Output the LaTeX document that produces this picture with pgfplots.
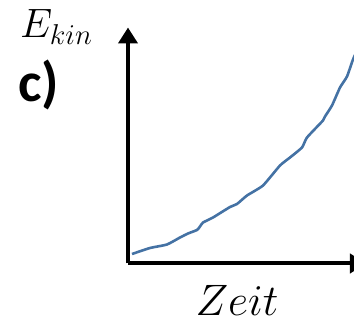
\RequirePackage{fix-cm}
\documentclass[border=0pt]{standalone}
\usepackage{pgfplots}
\pgfplotsset{compat=1.18}
\usetikzlibrary{arrows.meta}
\usepackage{fontspec}
\newfontfamily\carlito{Carlito}
\definecolor{curve}{RGB}{68,114,164}
\begin{document}
\begin{tikzpicture}[x=1pt,y=1pt]
\useasboundingbox (-128,-60.5) rectangle (226,263.5);
\begin{axis}[
  at={(0,0)}, anchor=south west,
  scale only axis, width=238pt, height=236pt,
  xmin=0, xmax=238, ymin=0, ymax=236,
  axis lines=left,
  axis line style={line width=4pt},
  every outer x axis line/.append style={-{Triangle[length=16pt,width=19pt]}},
  every outer y axis line/.append style={-{Triangle[length=16pt,width=19pt]}},
  xtick=\empty, ytick=\empty,
  clip=false,
]
\addplot[color=curve, line width=2.6pt, line join=round, smooth, tension=0.3] coordinates {
(4,9.5) (22,15.5) (39,19) (52,26) (60,30) (69,33.5) (72,37) (75,41) (85,46)
(102,56.5) (109,59.5) (119,68) (135,78) (152,98) (162,106) (174,116) (179,126)
(195,143) (197,147) (204,158) (212,176) (219,187) (225,204) (230,215)
};
\end{axis}
\node[anchor=base, inner sep=0pt] at (109,-52.5) {\fontsize{44}{48}\selectfont$Zeit$};
\node[anchor=base west, inner sep=0pt] at (-108,225.5) {\fontsize{41}{46}\selectfont$E_{kin}$};
\node[anchor=base west, inner sep=0pt] at (-110,162) {\carlito\bfseries\fontsize{56}{60}\selectfont c)};
\end{tikzpicture}
\end{document}
